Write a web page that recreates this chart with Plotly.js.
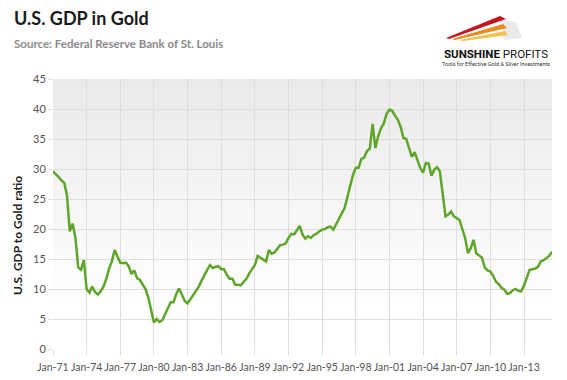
<!DOCTYPE html>
<html>
<head>
<meta charset="utf-8">
<script src="https://cdn.plot.ly/plotly-3.0.1.min.js"></script>
<style>
  html, body { margin: 0; padding: 0; background: #ffffff; }
  #chart { width: 567px; height: 380px; }
</style>
</head>
<body>
<div id="chart"></div>
<script>
// U.S. GDP to Gold ratio, quarterly, starting Jan-1971
const startYear = 1971;
const ratio1970s = [
  29.6, 29.2, 28.7, 28.1,
  27.7, 25.6, 19.6, 20.9,
  18.5, 13.6, 13.2, 14.8,
  10.0, 9.4, 10.4, 9.5,
  9.1, 9.6, 10.4, 11.7,
  13.4, 14.6, 16.5, 15.4,
  14.4, 14.3, 14.4, 13.8,
  12.5, 13.1, 11.8, 11.5,
  10.8, 10.0, 8.6, 6.6
];
const ratio1980s = [
  4.4, 5.0, 4.5, 4.8,
  5.9, 6.8, 7.8, 7.8,
  9.2, 10.1, 9.1, 8.0,
  7.6, 8.3, 9.0, 9.9,
  10.4, 11.4, 12.4, 13.2,
  14.0, 13.5, 13.7, 13.8,
  13.3, 13.3, 12.4, 11.7,
  11.7, 10.7, 10.7, 10.6,
  11.2, 11.7, 12.6, 13.3,
  14.0, 15.5, 15.2, 14.9
];
const ratio1990s = [
  14.6, 16.5, 15.9, 16.1,
  16.7, 17.3, 17.4, 17.6,
  18.5, 19.2, 19.1, 19.9,
  20.5, 19.1, 18.4, 18.8,
  18.5, 19.0, 19.2, 19.6,
  19.9, 20.0, 20.3, 20.4,
  19.9, 20.8, 21.8, 22.6,
  23.5, 25.2, 27.3, 29.0,
  30.2, 30.2, 31.7, 31.9,
  33.0, 33.4, 37.5, 33.5
];
const ratio2000s = [
  35.5, 36.8, 37.6, 39.2,
  39.9, 39.7, 38.9, 38.2,
  37.0, 35.2, 35.0, 33.5,
  32.0, 32.8, 31.3, 30.2,
  29.4, 31.0, 30.9, 28.9,
  29.9, 30.3, 29.6, 26.2,
  22.1, 22.4, 22.9, 22.1,
  21.8, 21.5, 20.0, 18.5,
  16.0, 16.8, 18.2, 15.9,
  15.6, 15.2, 13.6, 13.1
];
const ratio2010s = [
  12.9, 12.2, 11.2, 10.8,
  10.2, 9.9, 9.2, 9.3,
  9.8, 10.0, 9.7, 9.6,
  10.6, 12.0, 13.2, 13.3,
  13.4, 13.7, 14.6, 14.8,
  15.2, 15.5, 16.2
];
const yTickVals = [0, 5, 10, 15, 20, 25, 30, 35, 40, 45];

const ratio = [].concat(ratio1970s, ratio1980s, ratio1990s, ratio2000s, ratio2010s);
const dates = ratio.map((v, i) => {
  const y = startYear + Math.floor(i / 4);
  const m = (i % 4) * 3 + 1;
  return y + '-' + String(m).padStart(2, '0') + '-01';
});

// pixel -> paper helpers (plot area: x 53..552, y 79..349)
const L = 53, R = 552, T = 79, B = 349;
const px = x => (x - L) / (R - L);
const py = y => (B - y) / (B - T);

// background gradient strips
const shapes = [];
const nStrips = 30;
for (let i = 0; i < nStrips; i++) {
  const f = i / (nStrips - 1);
  const c = Math.round(234 + (255 - 234) * Math.min(1, f * 1.15));
  shapes.push({
    type: 'rect', xref: 'paper', yref: 'paper', layer: 'below',
    x0: 0, x1: 1, y0: 1 - (i + 1) / nStrips, y1: 1 - i / nStrips,
    fillcolor: `rgb(${c},${c},${c})`, line: { width: 0 }
  });
}
function poly(pts, color, opacity) {
  let d = 'M ' + pts.map(p => px(p[0]) + ',' + py(p[1])).join(' L ') + ' Z';
  shapes.push({ type: 'path', xref: 'paper', yref: 'paper', path: d,
    fillcolor: color, opacity: opacity || 1, line: { width: 0 } });
}
// logo swoosh
poly([[500, 20], [516, 22], [522, 38], [504, 40]], '#dcdcdc', 0.6);
poly([[446, 38], [500, 16], [506, 19], [449, 39]], '#c4161c');
poly([[452, 39], [503, 24], [507, 28], [455, 40]], '#e98a1e');
poly([[460, 40], [505, 31], [508, 35], [463, 41]], '#f2c14a');

const trace = {
  x: dates, y: ratio, type: 'scatter', mode: 'lines',
  line: { color: '#5ea52a', width: 2.5 },
  hoverinfo: 'x+y'
};

const layout = {
  width: 567, height: 380,
  margin: { l: L, r: 567 - R, t: T, b: 380 - B },
  paper_bgcolor: '#ffffff',
  plot_bgcolor: 'rgba(0,0,0,0)',
  showlegend: false,
  font: { family: 'Lato, "Open Sans", sans-serif', color: '#555' },
  xaxis: {
    type: 'date',
    range: [dates[0], dates[dates.length - 1]],
    tick0: '1971-01-01', dtick: 'M36', tickformat: '%b-%y',
    tickangle: 0, ticklabelstandoff: 3,
    showgrid: true, gridcolor: '#dedede', gridwidth: 1,
    ticks: 'outside', ticklen: 5, tickcolor: '#dedede',
    showline: false, zeroline: false,
    tickfont: { size: 10.5, color: '#555' }
  },
  yaxis: {
    range: [0, 45], tickvals: yTickVals,
    showgrid: true, gridcolor: '#dedede', gridwidth: 1,
    ticks: 'outside', ticklen: 4, tickcolor: '#dedede',
    zeroline: false, showline: false,
    tickfont: { size: 11, color: '#555' }
  },
  shapes: shapes,
  annotations: [
    { text: '<b>U.S. GDP in Gold</b>', xref: 'paper', yref: 'paper',
      x: px(12), y: py(18), xanchor: 'left', yanchor: 'middle', showarrow: false,
      font: { size: 18, color: '#1a1a1a', family: 'Lato, sans-serif' } },
    { text: '<b>Source: Federal Reserve Bank of St. Louis</b>', xref: 'paper', yref: 'paper',
      x: px(12), y: py(43), xanchor: 'left', yanchor: 'middle', showarrow: false,
      font: { size: 11.5, color: '#8a8a8a', family: 'Lato, sans-serif' } },
    { text: '<b>U.S. GDP to Gold ratio</b>', xref: 'paper', yref: 'paper',
      x: px(17), y: py(236), xanchor: 'center', yanchor: 'middle', showarrow: false,
      textangle: -90,
      font: { size: 12, color: '#222', family: 'Lato, sans-serif' } },
    { text: '<b>SUNSHINE</b> PROFITS', xref: 'paper', yref: 'paper',
      x: px(496), y: py(54), xanchor: 'center', yanchor: 'middle', showarrow: false,
      font: { size: 11.5, color: '#111', family: '"Liberation Sans Narrow", "Roboto", sans-serif' } },
    { text: 'Tools for Effective Gold & Silver Investments', xref: 'paper', yref: 'paper',
      x: px(496), y: py(64), xanchor: 'center', yanchor: 'middle', showarrow: false,
      font: { size: 5.5, color: '#333', family: 'Roboto, sans-serif' } }
  ]
};

Plotly.newPlot('chart', [trace], layout, { displayModeBar: false, staticPlot: true });
</script>
</body>
</html>
